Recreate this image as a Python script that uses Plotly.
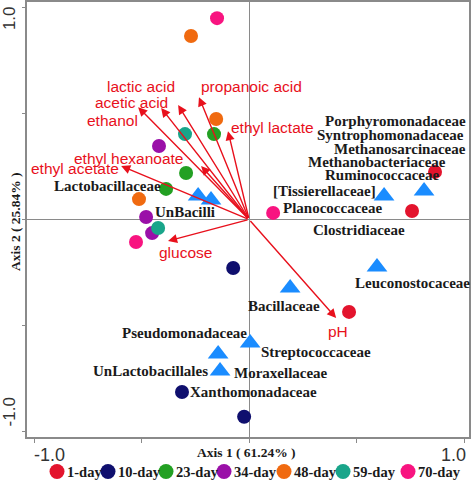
import plotly.graph_objects as go

# ---------------- data ----------------
groups = ["1-day", "10-day", "23-day", "34-day", "48-day", "59-day", "70-day"]
group_colors = ["#e3142d", "#0f0f6e", "#23a023", "#9a10a8", "#f06a10", "#19a58a", "#f81480"]

sample_group = ["70-day", "48-day", "48-day", "23-day", "59-day", "34-day", "23-day",
                "23-day", "48-day", "34-day", "59-day", "34-day", "70-day", "70-day",
                "1-day", "1-day", "10-day", "1-day", "10-day", "10-day"]
sample_x = [-0.149, -0.270, -0.153, -0.163, -0.298, -0.419, -0.293, -0.386, -0.512, -0.479,
            -0.423, -0.451, -0.526, 0.112, 0.865, 0.758, -0.074, 0.465, -0.312, -0.023]
sample_y = [0.948, 0.864, 0.473, 0.402, 0.402, 0.346, 0.219, 0.144, 0.096, 0.012,
            -0.040, -0.064, -0.106, 0.031, 0.224, 0.040, -0.228, -0.435, -0.812, -0.929]

taxa_x = [-0.237, -0.177, 0.628, 0.814, 0.595, 0.191, 0.005, -0.144, -0.135]
taxa_y = [0.111, 0.092, 0.111, 0.134, -0.224, -0.322, -0.581, -0.633, -0.713]

taxa_labels = ["Porphyromonadaceae", "Syntrophomonadaceae", "Methanosarcinaceae",
               "Methanobacteriaceae", "Ruminococcaceae", "[Tissierellaceae]",
               "Planococcaceae", "Clostridiaceae", "Leuconostocaceae", "Bacillaceae",
               "Streptococcaceae", "Moraxellaceae", "Pseudomonadaceae",
               "UnLactobacillales", "Xanthomonadaceae", "Lactobacillaceae", "UnBacilli"]
taxa_label_x = [0.679, 0.660, 0.702, 0.595, 0.619, 0.349, 0.386, 0.512, 0.758, 0.163,
                0.312, 0.149, -0.302, -0.460, 0.019, -0.660, -0.298]
taxa_label_y = [0.464, 0.398, 0.332, 0.271, 0.209, 0.134, 0.054, -0.049, -0.299, -0.407,
                -0.624, -0.722, -0.534, -0.713, -0.812, 0.158, 0.035]

env_vars = ["lactic acid", "acetic acid", "ethanol", "propanoic acid", "ethyl lactate",
            "ethyl hexanoate", "ethyl acetate", "glucose", "pH"]
env_x = [-0.330, -0.409, -0.516, -0.233, -0.098, -0.223, -0.595, -0.377, 0.405]
env_y = [0.539, 0.525, 0.529, 0.576, 0.416, 0.252, 0.252, -0.101, -0.464]
env_label_x = [-0.502, -0.549, -0.637, 0.009, 0.107, -0.563, -0.809, -0.298, 0.414]
env_label_y = [0.624, 0.553, 0.468, 0.628, 0.431, 0.285, 0.242, -0.153, -0.525]

axis_ticks = [-1.0, -0.5, 0.0, 0.5, 1.0]
x_title = "Axis 1 ( 61.24% )"
y_title = "Axis 2 ( 25.84% )"

# ---------------- layout constants ----------------
W, H = 472, 481
ML, MR, MT, MB = 27, 3, 2, 0
legend_marker_pos = [57, 108, 166, 224, 284, 343, 408]   # pixel-like units of legend strip
RED = "#e8101c"
GRAY = "#8a8a8a"
SERIF = "Liberation Serif, Times New Roman, serif"
SANS = "Liberation Sans, Arial, sans-serif"

fig = go.Figure()

color_of = dict(zip(groups, group_colors))
for g in groups:
    xs = [x for x, gg in zip(sample_x, sample_group) if gg == g]
    ys = [y for y, gg in zip(sample_y, sample_group) if gg == g]
    fig.add_trace(go.Scatter(x=xs, y=ys, mode="markers", name=g, showlegend=False,
                             marker=dict(symbol="circle", size=14, color=color_of[g],
                                         line=dict(width=0)),
                             xaxis="x", yaxis="y"))

fig.add_trace(go.Scatter(x=taxa_x, y=taxa_y, mode="markers", showlegend=False,
                         marker=dict(symbol="triangle-up", size=18, color="#1a8cff",
                                     line=dict(width=0)),
                         xaxis="x", yaxis="y"))

# legend strip (second subplot)
fig.add_trace(go.Scatter(x=legend_marker_pos, y=[0.5] * len(groups), mode="markers",
                         showlegend=False,
                         marker=dict(symbol="circle", size=15, color=group_colors,
                                     line=dict(width=0)),
                         xaxis="x2", yaxis="y2"))

annotations = []
# arrows for environmental variables
for ex, ey in zip(env_x, env_y):
    annotations.append(dict(x=ex, y=ey, ax=0, ay=0, xref="x", yref="y", axref="x", ayref="y",
                            text="", showarrow=True, arrowhead=2, arrowsize=1.3,
                            arrowwidth=1.4, arrowcolor=RED))
for t, lx, ly in zip(env_vars, env_label_x, env_label_y):
    annotations.append(dict(x=lx, y=ly, xref="x", yref="y", text=t, showarrow=False,
                            xanchor="center", yanchor="middle",
                            font=dict(family=SANS, size=15.5, color=RED)))
for t, lx, ly in zip(taxa_labels, taxa_label_x, taxa_label_y):
    annotations.append(dict(x=lx, y=ly, xref="x", yref="y", text="<b>%s</b>" % t,
                            showarrow=False, xanchor="center", yanchor="middle",
                            font=dict(family=SERIF, size=15, color="#1a1a1a")))

# tick labels (only the extremes are labelled)
annotations += [
    dict(x=axis_ticks[0], y=(H - 455) / (H - MT - MB), xref="x", yref="paper", text="-1.0",
         showarrow=False, xanchor="left", yanchor="middle", xshift=-2,
         font=dict(family=SANS, size=18, color="#333333")),
    dict(x=axis_ticks[-1], y=(H - 455) / (H - MT - MB), xref="x", yref="paper", text="1.0",
         showarrow=False, xanchor="right", yanchor="middle", xshift=4,
         font=dict(family=SANS, size=18, color="#333333")),
    dict(x=(9 - ML) / (W - ML - MR), y=axis_ticks[-1], xref="paper", yref="y", text="1.0",
         showarrow=False, xanchor="center", yanchor="top", textangle=-90, yshift=3,
         font=dict(family=SANS, size=17, color="#333333")),
    dict(x=(9 - ML) / (W - ML - MR), y=axis_ticks[0], xref="paper", yref="y", text="-1.0",
         showarrow=False, xanchor="center", yanchor="bottom", textangle=-90, yshift=3,
         font=dict(family=SANS, size=17, color="#333333")),
    dict(x=(246 - ML) / (W - ML - MR), y=(H - 452) / (H - MT - MB), xref="paper", yref="paper",
         text="<b>%s</b>" % x_title, showarrow=False, xanchor="center", yanchor="middle",
         font=dict(family=SERIF, size=13.5, color="#1a1a1a")),
    dict(x=(15 - ML) / (W - ML - MR), y=(H - 222) / (H - MT - MB), xref="paper", yref="paper",
         text="<b>%s</b>" % y_title, showarrow=False, xanchor="center", yanchor="middle",
         textangle=-90, font=dict(family=SERIF, size=13.5, color="#1a1a1a")),
]
# legend labels
for g, px in zip(groups, legend_marker_pos):
    annotations.append(dict(x=px + 8, y=0.5, xref="x2", yref="y2", text="<b>%s</b>" % g,
                            showarrow=False, xanchor="left", yanchor="middle",
                            font=dict(family=SERIF, size=14.5, color="#1a1a1a")))

main_bottom = (H - 437) / (H - MT - MB)

fig.update_layout(
    width=W, height=H,
    margin=dict(l=ML, r=MR, t=MT, b=MB),
    paper_bgcolor="white", plot_bgcolor="white",
    showlegend=False,
    xaxis=dict(domain=[0, 1], range=[-1.033, 1.023], tickvals=axis_ticks, showticklabels=False,
               ticks="outside", ticklen=4, tickcolor=GRAY, tickwidth=1,
               showline=True, linecolor=GRAY, linewidth=2, mirror=True,
               showgrid=False, zeroline=True, zerolinecolor=GRAY, zerolinewidth=1,
               anchor="y"),
    yaxis=dict(domain=[main_bottom, 1], range=[-1.024, 1.024], tickvals=axis_ticks,
               showticklabels=False, ticks="outside", ticklen=3, tickcolor=GRAY, tickwidth=1,
               showline=True, linecolor=GRAY, linewidth=2, mirror=True,
               showgrid=False, zeroline=True, zerolinecolor=GRAY, zerolinewidth=1,
               anchor="x"),
    xaxis2=dict(domain=[0, 1], range=[ML, W - MR], visible=False, anchor="y2"),
    yaxis2=dict(domain=[0, 19 / (H - MT - MB)], range=[0, 1], visible=False, anchor="x2"),
    annotations=annotations,
)

fig.write_html("out.html", config={"displayModeBar": False},
               post_script="document.body.style.margin='0';document.body.style.overflow='hidden';")
